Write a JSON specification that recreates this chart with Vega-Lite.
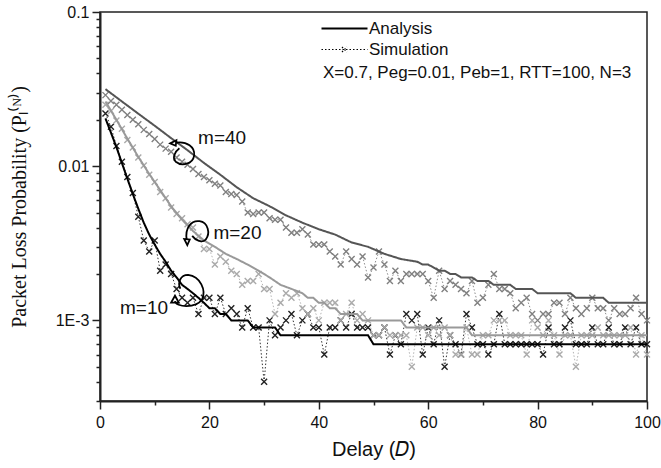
{
"$schema": "https://vega.github.io/schema/vega-lite/v6.json",
"width": 547, "height": 389,
"autosize": {"type": "none"},
"padding": {"left": 100, "top": 12, "right": 14, "bottom": 67},
"config": {
  "view": {"stroke": "#222", "strokeWidth": 1.5},
  "font": "Liberation Sans",
  "axis": {"grid": false, "domainColor": "#222", "domainWidth": 2, "tickColor": "#222", "tickWidth": 1.5, "labelColor": "#111", "labelFont": "Liberation Sans", "titleColor": "#111"}
},
"datasets": {
"sim": [
{"m":"10","x":1,"y":0.022},{"m":"10","x":2,"y":0.018},{"m":"10","x":3,"y":0.0135},{"m":"10","x":4,"y":0.0107},{"m":"10","x":5,"y":0.0085},{"m":"10","x":6,"y":0.0067},{"m":"10","x":7,"y":0.0047},{"m":"10","x":8,"y":0.0033},{"m":"10","x":9,"y":0.0028},{"m":"10","x":10,"y":0.0033},
{"m":"10","x":11,"y":0.0021},{"m":"10","x":12,"y":0.0023},{"m":"10","x":13,"y":0.002},{"m":"10","x":14,"y":0.0016},{"m":"10","x":15,"y":0.0014},{"m":"10","x":16,"y":0.0013},{"m":"10","x":17,"y":0.0014},{"m":"10","x":18,"y":0.0011},{"m":"10","x":19,"y":0.0014},{"m":"10","x":20,"y":0.0014},
{"m":"10","x":21,"y":0.0011},{"m":"10","x":22,"y":0.0014},{"m":"10","x":23,"y":0.0011},{"m":"10","x":24,"y":0.0012},{"m":"10","x":25,"y":0.0011},{"m":"10","x":26,"y":0.0009},{"m":"10","x":27,"y":0.0012},{"m":"10","x":28,"y":0.0009},{"m":"10","x":29,"y":0.0009},{"m":"10","x":30,"y":0.0004},
{"m":"10","x":31,"y":0.001},{"m":"10","x":32,"y":0.0008},{"m":"10","x":33,"y":0.0009},{"m":"10","x":34,"y":0.001},{"m":"10","x":35,"y":0.0011},{"m":"10","x":36,"y":0.0008},{"m":"10","x":37,"y":0.001},{"m":"10","x":38,"y":0.0011},{"m":"10","x":39,"y":0.0009},{"m":"10","x":40,"y":0.0009},
{"m":"10","x":41,"y":0.0006},{"m":"10","x":42,"y":0.0009},{"m":"10","x":43,"y":0.0009},{"m":"10","x":44,"y":0.001},{"m":"10","x":45,"y":0.0009},{"m":"10","x":46,"y":0.0011},{"m":"10","x":47,"y":0.0009},{"m":"10","x":48,"y":0.0009},{"m":"10","x":49,"y":0.0009},{"m":"10","x":50,"y":0.0008},
{"m":"10","x":51,"y":0.0008},{"m":"10","x":52,"y":0.0009},{"m":"10","x":53,"y":0.0006},{"m":"10","x":54,"y":0.0008},{"m":"10","x":55,"y":0.0007},{"m":"10","x":56,"y":0.0011},{"m":"10","x":57,"y":0.001},{"m":"10","x":58,"y":0.0011},{"m":"10","x":59,"y":0.0006},{"m":"10","x":60,"y":0.0009},
{"m":"10","x":61,"y":0.0007},{"m":"10","x":62,"y":0.001},{"m":"10","x":63,"y":0.0005},{"m":"10","x":64,"y":0.0008},{"m":"10","x":65,"y":0.0007},{"m":"10","x":66,"y":0.0006},{"m":"10","x":67,"y":0.0011},{"m":"10","x":68,"y":0.0009},{"m":"10","x":69,"y":0.0007},{"m":"10","x":70,"y":0.0007},
{"m":"10","x":71,"y":0.0006},{"m":"10","x":72,"y":0.0007},{"m":"10","x":73,"y":0.0011},{"m":"10","x":74,"y":0.0007},{"m":"10","x":75,"y":0.0007},{"m":"10","x":76,"y":0.0007},{"m":"10","x":77,"y":0.0007},{"m":"10","x":78,"y":0.0007},{"m":"10","x":79,"y":0.0007},{"m":"10","x":80,"y":0.0007},
{"m":"10","x":81,"y":0.0006},{"m":"10","x":82,"y":0.0009},{"m":"10","x":83,"y":0.0007},{"m":"10","x":84,"y":0.0007},{"m":"10","x":85,"y":0.0009},{"m":"10","x":86,"y":0.001},{"m":"10","x":87,"y":0.0007},{"m":"10","x":88,"y":0.0007},{"m":"10","x":89,"y":0.0007},{"m":"10","x":90,"y":0.0009},
{"m":"10","x":91,"y":0.0007},{"m":"10","x":92,"y":0.0007},{"m":"10","x":93,"y":0.0009},{"m":"10","x":94,"y":0.0007},{"m":"10","x":95,"y":0.0007},{"m":"10","x":96,"y":0.0009},{"m":"10","x":97,"y":0.0007},{"m":"10","x":98,"y":0.0009},{"m":"10","x":99,"y":0.0007},{"m":"10","x":100,"y":0.0007},
{"m":"20","x":1,"y":0.025},{"m":"20","x":2,"y":0.0228},{"m":"20","x":3,"y":0.0198},{"m":"20","x":4,"y":0.0175},{"m":"20","x":5,"y":0.0148},{"m":"20","x":6,"y":0.0132},{"m":"20","x":7,"y":0.0114},{"m":"20","x":8,"y":0.0101},{"m":"20","x":9,"y":0.0088},{"m":"20","x":10,"y":0.0079},
{"m":"20","x":11,"y":0.0068},{"m":"20","x":12,"y":0.0062},{"m":"20","x":13,"y":0.0054},{"m":"20","x":14,"y":0.0049},{"m":"20","x":15,"y":0.0046},{"m":"20","x":16,"y":0.0042},{"m":"20","x":17,"y":0.004},{"m":"20","x":18,"y":0.0035},{"m":"20","x":19,"y":0.0029},{"m":"20","x":20,"y":0.0029},
{"m":"20","x":21,"y":0.0023},{"m":"20","x":22,"y":0.0026},{"m":"20","x":23,"y":0.0024},{"m":"20","x":24,"y":0.0021},{"m":"20","x":25,"y":0.002},{"m":"20","x":26,"y":0.0017},{"m":"20","x":27,"y":0.0018},{"m":"20","x":28,"y":0.0018},{"m":"20","x":29,"y":0.002},{"m":"20","x":30,"y":0.0016},
{"m":"20","x":31,"y":0.0016},{"m":"20","x":32,"y":0.0011},{"m":"20","x":33,"y":0.0013},{"m":"20","x":34,"y":0.0015},{"m":"20","x":35,"y":0.0014},{"m":"20","x":36,"y":0.0015},{"m":"20","x":37,"y":0.0012},{"m":"20","x":38,"y":0.0011},{"m":"20","x":39,"y":0.0012},{"m":"20","x":40,"y":0.001},
{"m":"20","x":41,"y":0.0013},{"m":"20","x":42,"y":0.0013},{"m":"20","x":43,"y":0.0013},{"m":"20","x":44,"y":0.001},{"m":"20","x":45,"y":0.0011},{"m":"20","x":46,"y":0.0013},{"m":"20","x":47,"y":0.001},{"m":"20","x":48,"y":0.0011},{"m":"20","x":49,"y":0.001},{"m":"20","x":50,"y":0.0008},
{"m":"20","x":51,"y":0.0008},{"m":"20","x":52,"y":0.0009},{"m":"20","x":53,"y":0.0008},{"m":"20","x":54,"y":0.0008},{"m":"20","x":55,"y":0.0008},{"m":"20","x":56,"y":0.0008},{"m":"20","x":57,"y":0.0005},{"m":"20","x":58,"y":0.0009},{"m":"20","x":59,"y":0.0009},{"m":"20","x":60,"y":0.0008},
{"m":"20","x":61,"y":0.0009},{"m":"20","x":62,"y":0.0008},{"m":"20","x":63,"y":0.0009},{"m":"20","x":64,"y":0.0008},{"m":"20","x":65,"y":0.0006},{"m":"20","x":66,"y":0.0006},{"m":"20","x":67,"y":0.0009},{"m":"20","x":68,"y":0.0006},{"m":"20","x":69,"y":0.0006},{"m":"20","x":70,"y":0.0008},
{"m":"20","x":71,"y":0.0008},{"m":"20","x":72,"y":0.001},{"m":"20","x":73,"y":0.001},{"m":"20","x":74,"y":0.001},{"m":"20","x":75,"y":0.0008},{"m":"20","x":76,"y":0.0008},{"m":"20","x":77,"y":0.0008},{"m":"20","x":78,"y":0.0006},{"m":"20","x":79,"y":0.001},{"m":"20","x":80,"y":0.0009},
{"m":"20","x":81,"y":0.0008},{"m":"20","x":82,"y":0.001},{"m":"20","x":83,"y":0.0008},{"m":"20","x":84,"y":0.0006},{"m":"20","x":85,"y":0.0008},{"m":"20","x":86,"y":0.0008},{"m":"20","x":87,"y":0.0005},{"m":"20","x":88,"y":0.0008},{"m":"20","x":89,"y":0.0008},{"m":"20","x":90,"y":0.0008},
{"m":"20","x":91,"y":0.0009},{"m":"20","x":92,"y":0.0008},{"m":"20","x":93,"y":0.0008},{"m":"20","x":94,"y":0.0008},{"m":"20","x":95,"y":0.0008},{"m":"20","x":96,"y":0.0008},{"m":"20","x":97,"y":0.0009},{"m":"20","x":98,"y":0.0006},{"m":"20","x":99,"y":0.0008},{"m":"20","x":100,"y":0.0006},
{"m":"40","x":1,"y":0.0289},{"m":"40","x":2,"y":0.0265},{"m":"40","x":3,"y":0.025},{"m":"40","x":4,"y":0.0232},{"m":"40","x":5,"y":0.0215},{"m":"40","x":6,"y":0.02},{"m":"40","x":7,"y":0.0187},{"m":"40","x":8,"y":0.0172},{"m":"40","x":9,"y":0.0162},{"m":"40","x":10,"y":0.015},
{"m":"40","x":11,"y":0.0138},{"m":"40","x":12,"y":0.013},{"m":"40","x":13,"y":0.0124},{"m":"40","x":14,"y":0.0114},{"m":"40","x":15,"y":0.0107},{"m":"40","x":16,"y":0.0102},{"m":"40","x":17,"y":0.0096},{"m":"40","x":18,"y":0.0089},{"m":"40","x":19,"y":0.0085},{"m":"40","x":20,"y":0.0081},
{"m":"40","x":21,"y":0.0077},{"m":"40","x":22,"y":0.0075},{"m":"40","x":23,"y":0.0068},{"m":"40","x":24,"y":0.0066},{"m":"40","x":25,"y":0.0065},{"m":"40","x":26,"y":0.0059},{"m":"40","x":27,"y":0.005},{"m":"40","x":28,"y":0.0049},{"m":"40","x":29,"y":0.005},{"m":"40","x":30,"y":0.005},
{"m":"40","x":31,"y":0.0046},{"m":"40","x":32,"y":0.0045},{"m":"40","x":33,"y":0.0045},{"m":"40","x":34,"y":0.004},{"m":"40","x":35,"y":0.0037},{"m":"40","x":36,"y":0.0037},{"m":"40","x":37,"y":0.0039},{"m":"40","x":38,"y":0.0036},{"m":"40","x":39,"y":0.0031},{"m":"40","x":40,"y":0.0031},
{"m":"40","x":41,"y":0.0031},{"m":"40","x":42,"y":0.0028},{"m":"40","x":43,"y":0.0026},{"m":"40","x":44,"y":0.0023},{"m":"40","x":45,"y":0.0028},{"m":"40","x":46,"y":0.0025},{"m":"40","x":47,"y":0.0023},{"m":"40","x":48,"y":0.0026},{"m":"40","x":49,"y":0.0019},{"m":"40","x":50,"y":0.0022},
{"m":"40","x":51,"y":0.0028},{"m":"40","x":52,"y":0.0023},{"m":"40","x":53,"y":0.0018},{"m":"40","x":54,"y":0.0021},{"m":"40","x":55,"y":0.0018},{"m":"40","x":56,"y":0.002},{"m":"40","x":57,"y":0.002},{"m":"40","x":58,"y":0.002},{"m":"40","x":59,"y":0.002},{"m":"40","x":60,"y":0.0018},
{"m":"40","x":61,"y":0.0014},{"m":"40","x":62,"y":0.0021},{"m":"40","x":63,"y":0.0016},{"m":"40","x":64,"y":0.0018},{"m":"40","x":65,"y":0.0017},{"m":"40","x":66,"y":0.0016},{"m":"40","x":67,"y":0.0015},{"m":"40","x":68,"y":0.0018},{"m":"40","x":69,"y":0.0013},{"m":"40","x":70,"y":0.0014},
{"m":"40","x":71,"y":0.0017},{"m":"40","x":72,"y":0.002},{"m":"40","x":73,"y":0.0016},{"m":"40","x":74,"y":0.0016},{"m":"40","x":75,"y":0.0015},{"m":"40","x":76,"y":0.0012},{"m":"40","x":77,"y":0.0013},{"m":"40","x":78,"y":0.0014},{"m":"40","x":79,"y":0.0011},{"m":"40","x":80,"y":0.001},
{"m":"40","x":81,"y":0.0011},{"m":"40","x":82,"y":0.0011},{"m":"40","x":83,"y":0.0013},{"m":"40","x":84,"y":0.0013},{"m":"40","x":85,"y":0.0011},{"m":"40","x":86,"y":0.0014},{"m":"40","x":87,"y":0.0012},{"m":"40","x":88,"y":0.0011},{"m":"40","x":89,"y":0.0012},{"m":"40","x":90,"y":0.0014},
{"m":"40","x":91,"y":0.0012},{"m":"40","x":92,"y":0.0012},{"m":"40","x":93,"y":0.001},{"m":"40","x":94,"y":0.0012},{"m":"40","x":95,"y":0.0011},{"m":"40","x":96,"y":0.0011},{"m":"40","x":97,"y":0.0012},{"m":"40","x":98,"y":0.0014},{"m":"40","x":99,"y":0.0011},{"m":"40","x":100,"y":0.001}
],
"analysis": [
{"m":"10","x":1,"y":0.0204},{"m":"10","x":2,"y":0.0165},{"m":"10","x":3,"y":0.0133},{"m":"10","x":4,"y":0.0105},{"m":"10","x":5,"y":0.0083},{"m":"10","x":6,"y":0.0066},{"m":"10","x":7,"y":0.0053},{"m":"10","x":8,"y":0.0043},{"m":"10","x":9,"y":0.0036},{"m":"10","x":10,"y":0.0031},
{"m":"10","x":11,"y":0.0027},{"m":"10","x":12,"y":0.0024},{"m":"10","x":13,"y":0.0021},{"m":"10","x":14,"y":0.0019},{"m":"10","x":15,"y":0.0017},{"m":"10","x":16,"y":0.0016},{"m":"10","x":17,"y":0.0015},{"m":"10","x":18,"y":0.0014},{"m":"10","x":19,"y":0.0013},{"m":"10","x":20,"y":0.0012},
{"m":"10","x":21,"y":0.0012},{"m":"10","x":22,"y":0.0011},{"m":"10","x":23,"y":0.0011},{"m":"10","x":24,"y":0.001},{"m":"10","x":27,"y":0.001},{"m":"10","x":28,"y":0.0009},{"m":"10","x":32,"y":0.0009},{"m":"10","x":33,"y":0.0008},{"m":"10","x":49,"y":0.0008},{"m":"10","x":50,"y":0.0007},{"m":"10","x":100,"y":0.0007},
{"m":"20","x":1,"y":0.0263},{"m":"20","x":3,"y":0.02},{"m":"20","x":5,"y":0.0151},{"m":"20","x":7,"y":0.0115},{"m":"20","x":9,"y":0.0089},{"m":"20","x":11,"y":0.007},{"m":"20","x":13,"y":0.0055},{"m":"20","x":15,"y":0.0045},{"m":"20","x":17,"y":0.0038},{"m":"20","x":19,"y":0.0033},
{"m":"20","x":21,"y":0.003},{"m":"20","x":23,"y":0.0027},{"m":"20","x":25,"y":0.0025},{"m":"20","x":27,"y":0.0023},{"m":"20","x":29,"y":0.0021},{"m":"20","x":31,"y":0.0019},{"m":"20","x":33,"y":0.0017},{"m":"20","x":35,"y":0.0016},{"m":"20","x":37,"y":0.0015},{"m":"20","x":38,"y":0.0014},
{"m":"20","x":39,"y":0.0014},{"m":"20","x":40,"y":0.0013},{"m":"20","x":41,"y":0.0013},{"m":"20","x":42,"y":0.0012},{"m":"20","x":43,"y":0.0012},{"m":"20","x":44,"y":0.0011},{"m":"20","x":47,"y":0.0011},{"m":"20","x":48,"y":0.001},{"m":"20","x":55,"y":0.001},{"m":"20","x":56,"y":0.0009},{"m":"20","x":67,"y":0.0009},{"m":"20","x":68,"y":0.0008},{"m":"20","x":100,"y":0.0008},
{"m":"40","x":1,"y":0.0316},{"m":"40","x":4,"y":0.0263},{"m":"40","x":7,"y":0.0219},{"m":"40","x":10,"y":0.0183},{"m":"40","x":13,"y":0.0152},{"m":"40","x":16,"y":0.0127},{"m":"40","x":19,"y":0.0105},{"m":"40","x":22,"y":0.0088},{"m":"40","x":25,"y":0.0073},{"m":"40","x":28,"y":0.0062},
{"m":"40","x":31,"y":0.0055},{"m":"40","x":34,"y":0.0048},{"m":"40","x":37,"y":0.0043},{"m":"40","x":40,"y":0.0039},{"m":"40","x":43,"y":0.0036},{"m":"40","x":46,"y":0.0032},{"m":"40","x":49,"y":0.003},{"m":"40","x":52,"y":0.0027},{"m":"40","x":55,"y":0.0025},{"m":"40","x":58,"y":0.0024},
{"m":"40","x":59,"y":0.0023},{"m":"40","x":60,"y":0.0023},{"m":"40","x":61,"y":0.0022},{"m":"40","x":62,"y":0.0021},{"m":"40","x":63,"y":0.0021},{"m":"40","x":64,"y":0.002},{"m":"40","x":65,"y":0.002},{"m":"40","x":66,"y":0.0019},{"m":"40","x":68,"y":0.0019},{"m":"40","x":69,"y":0.0018},
{"m":"40","x":71,"y":0.0018},{"m":"40","x":72,"y":0.0017},{"m":"40","x":75,"y":0.0017},{"m":"40","x":76,"y":0.0016},{"m":"40","x":79,"y":0.0016},{"m":"40","x":80,"y":0.0015},{"m":"40","x":86,"y":0.0015},{"m":"40","x":87,"y":0.0014},{"m":"40","x":92,"y":0.0014},{"m":"40","x":93,"y":0.0013},{"m":"40","x":100,"y":0.0013}
],
"labels": [
{"label":"m=40","x":17.93,"y":0.0152},
{"label":"m=20","x":20.73,"y":0.0037},
{"label":"m=10","x":3.66,"y":0.00121}
]
},
"layer": [
{
 "data": {"name": "sim"},
 "mark": {"type": "line", "strokeWidth": 1, "clip": true},
 "encoding": {
  "x": {"field": "x", "type": "quantitative", "scale": {"domain": [0, 100], "nice": false},
    "axis": {"values": [0,10,20,30,40,50,60,70,80,90,100],
      "labelExpr": "datum.value % 20 === 0 ? datum.label : ''",
      "tickSize": {"condition": {"test": "datum.value % 20 === 0", "value": 8}, "value": 4},
      "title": "Delay (𝐷)", "titleFontSize": 20, "titleFontWeight": "normal", "titleFont": "Liberation Sans",
      "labelFontSize": 16, "labelPadding": 5, "titlePadding": 9, "labelOverlap": false, "labelFlush": false}},
  "y": {"field": "y", "type": "quantitative", "scale": {"type": "log", "domain": [0.0003, 0.1], "nice": false},
    "axis": {"values": [0.0003,0.0004,0.0005,0.0006,0.0007,0.0008,0.0009,0.001,0.002,0.003,0.004,0.005,0.006,0.007,0.008,0.009,0.01,0.02,0.03,0.04,0.05,0.06,0.07,0.08,0.09,0.1],
      "labelExpr": "abs(datum.value-0.1)<1e-9 ? '0.1' : (abs(datum.value-0.01)<1e-10 ? '0.01' : (abs(datum.value-0.001)<1e-11 ? '1E-3' : ''))",
      "tickSize": {"condition": {"test": "abs(datum.value-0.1)<1e-9 || abs(datum.value-0.01)<1e-10 || abs(datum.value-0.001)<1e-11", "value": 8}, "value": 4},
      "title": "Packet Loss Probability (Pₗ⁽ᴺ⁾)", "titleFont": "Liberation Serif", "titleFontSize": 20, "titleFontWeight": "normal",
      "labelFontSize": 16, "labelPadding": 3, "titlePadding": 26, "labelOverlap": false}},
  "color": {"field": "m", "type": "nominal", "scale": {"domain": ["10","20","40"], "range": ["#333333","#b4b4b4","#8c8c8c"]}, "legend": null},
  "strokeDash": {"datum": "Simulation", "type": "nominal",
    "scale": {"domain": ["Analysis","Simulation"], "range": [[1,0],[1.5,2]]},
    "legend": {"orient": "none", "legendX": 223, "legendY": 8, "direction": "vertical",
      "title": "X=0.7, Peg=0.01, Peb=1, RTT=100, N=3",
      "titleOrient": "bottom", "titleAnchor": "start", "titleFontSize": 17, "titleFontWeight": "normal", "titleFont": "Liberation Sans", "titleColor": "#111", "titlePadding": 7, "titleLimit": 500,
      "labelFontSize": 17, "labelFont": "Liberation Sans", "labelColor": "#111", "labelOffset": 29,
      "symbolSize": 400, "symbolStrokeColor": "#000", "symbolFillColor": "transparent", "symbolStrokeWidth": 2, "rowPadding": 3,
      "encode": {"symbols": {"update": {
        "shape": {"signal": "datum.value === 'Simulation' ? 'M-1,0H3.6M1.05,-0.25L1.55,0.25M1.05,0.25L1.55,-0.25' : 'M-1,0H3.6'"},
        "strokeWidth": {"signal": "datum.value === 'Simulation' ? 1.2 : 2"}}}}}}
 }
},
{
 "data": {"name": "sim"},
 "mark": {"type": "point", "shape": "M-1,-1L1,1M-1,1L1,-1", "filled": false, "size": 36, "strokeWidth": 1.4, "opacity": 1},
 "encoding": {
  "x": {"field": "x", "type": "quantitative"},
  "y": {"field": "y", "type": "quantitative"},
  "color": {"field": "m", "type": "nominal", "scale": {"domain": ["10","20","40"], "range": ["#222222","#aaaaaa","#808080"]}, "legend": null}
 }
},
{
 "data": {"name": "analysis"},
 "mark": {"type": "line", "strokeWidth": 2},
 "encoding": {
  "x": {"field": "x", "type": "quantitative"},
  "y": {"field": "y", "type": "quantitative"},
  "color": {"field": "m", "type": "nominal", "scale": {"domain": ["10","20","40"], "range": ["#000000","#999999","#555555"]}, "legend": null},
  "strokeDash": {"datum": "Analysis", "type": "nominal"}
 }
},
{
 "data": {"name": "labels"},
 "mark": {"type": "text", "align": "left", "baseline": "middle", "fontSize": 19, "font": "Liberation Sans", "color": "#111"},
 "encoding": {
  "x": {"field": "x", "type": "quantitative"},
  "y": {"field": "y", "type": "quantitative"},
  "text": {"field": "label"}
 }
},
{
 "data": {"values": [{"x": 15.19, "y": 0.01215}]},
 "mark": {"type": "point", "shape": "M-0.6,-0.85C0.3,-1.0,1.0,-0.5,0.9,0.2C0.8,0.9,-0.1,1.1,-0.6,0.7C-0.9,0.4,-0.7,-0.1,-0.3,-0.4M-1.05,-0.8L-0.55,-1.05L-0.6,-0.6Z", "filled": false, "size": 600, "stroke": "#000", "strokeWidth": 1.8, "opacity": 1},
 "encoding": {"x": {"field": "x", "type": "quantitative"}, "y": {"field": "y", "type": "quantitative"}}
},
{
 "data": {"values": [{"x": 17.75, "y": 0.00373}]},
 "mark": {"type": "point", "shape": "M-0.6,-0.85C0.3,-1.0,1.0,-0.5,0.9,0.2C0.8,0.9,-0.1,1.1,-0.6,0.7C-0.9,0.4,-0.7,-0.1,-0.3,-0.4M-1.05,-0.8L-0.55,-1.05L-0.6,-0.6Z", "angle": 270, "filled": false, "size": 600, "stroke": "#000", "strokeWidth": 1.8, "opacity": 1},
 "encoding": {"x": {"field": "x", "type": "quantitative"}, "y": {"field": "y", "type": "quantitative"}}
},
{
 "data": {"values": [{"x": 16.1, "y": 0.001567}]},
 "mark": {"type": "point", "shape": "M-0.85,0.7C-0.8,1.1,0.5,1.2,0.9,0.6C1.2,0.0,0.8,-0.9,0.0,-1.0C-0.5,-1.0,-0.7,-0.5,-0.5,-0.1M-0.85,0.35L-1.1,0.8L-0.6,0.8Z", "filled": false, "size": 950, "stroke": "#000", "strokeWidth": 1.8, "opacity": 1},
 "encoding": {"x": {"field": "x", "type": "quantitative"}, "y": {"field": "y", "type": "quantitative"}}
}
],
"resolve": {"scale": {"color": "independent"}}
}
